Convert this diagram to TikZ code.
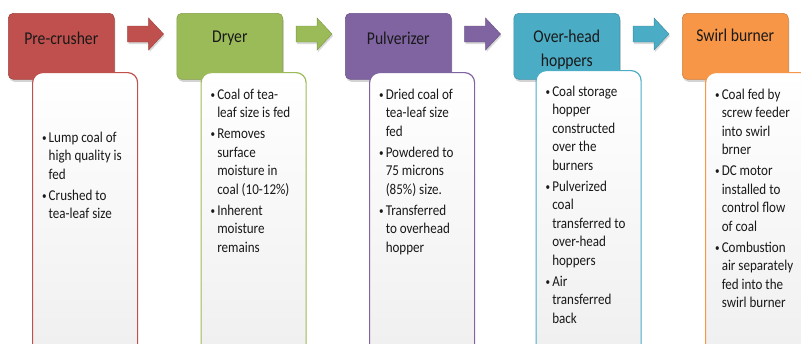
\documentclass[tikz,border=0pt]{standalone}
\usepackage{fontspec}
\setmainfont{Carlito}[FakeStretch=0.87]
\usetikzlibrary{calc,shadows}

\definecolor{crushred}{HTML}{C0504D}
\definecolor{dryergreen}{HTML}{9BBB59}
\definecolor{pulvpurple}{HTML}{8064A2}
\definecolor{hopperaqua}{HTML}{4BACC6}
\definecolor{swirlorange}{HTML}{F79646}
\definecolor{panelgray}{HTML}{EFEFEF}

\newcommand{\bul}{\raisebox{1pt}{\scalebox{0.7}{\textbullet}}}

\begin{document}
\begin{tikzpicture}[x=1pt,y=-1pt,
head/.style={draw=#1!85!black, line width=0.6pt, rounded corners=5pt,
  fill=#1, minimum width=106pt, minimum height=66pt, anchor=north west, inner sep=0pt,
  drop shadow={shadow xshift=1pt,shadow yshift=-2.5pt,opacity=0.35}},
info/.style={draw=#1, line width=1.2pt, rounded corners=10pt,
  top color=white, bottom color=panelgray,
  minimum width=105pt, minimum height=290pt, anchor=north west, inner sep=0pt},
flow/.style={draw=#1!80!black, line width=0.4pt, line join=miter,
  fill=#1, drop shadow={shadow xshift=1pt,shadow yshift=-2pt,opacity=0.3}},
title/.style={font=\fontsize{18}{24}\selectfont, align=center, text=black!90},
points/.style={anchor=north west, inner sep=0pt,
  font=\fontsize{15}{18.5}\selectfont, text=black!90}
]
\useasboundingbox (0,0) rectangle (801,343);
\clip (0,0) rectangle (801,343);

% step headers
\node[head=crushred] (h1) at (8,13) {};
\node[head=dryergreen] (h2) at (176.5,13) {};
\node[head=pulvpurple] (h3) at (345,13) {};
\node[head=hopperaqua] (h4) at (513.5,13) {};
\node[head=swirlorange] (h5) at (682,13) {};

% block arrows between steps
\coordinate (a1) at ($(h1.north east)!0.5!(h2.north west)+(0,21)$);
\coordinate (a2) at ($(h2.north east)!0.5!(h3.north west)+(0,21)$);
\coordinate (a3) at ($(h3.north east)!0.5!(h4.north west)+(0,21)$);
\coordinate (a4) at ($(h4.north east)!0.5!(h5.north west)+(0,21)$);
\def\blockarrow#1#2{%
\draw[flow=#2] ($(#1)+(-18,-8)$) -- ++(21,0) -- ++(0,-8) -- ++(15,16)
  -- ++(-15,16) -- ++(0,-8) -- ++(-21,0) -- cycle;}
\blockarrow{a1}{crushred}
\blockarrow{a2}{dryergreen}
\blockarrow{a3}{pulvpurple}
\blockarrow{a4}{hopperaqua}

% text panels
\node[info=crushred] (b1) at ($(h1.north west)+(24,59)$) {};
\node[info=dryergreen] (b2) at ($(h2.north west)+(24,59)$) {};
\node[info=pulvpurple] (b3) at ($(h3.north west)+(24,59)$) {};
\node[info=hopperaqua] (b4) at ($(h4.north west)+(22,57)$) {};
\node[info=swirlorange] (b5) at ($(h5.north west)+(23,59)$) {};

\node[title] (t1) at ($(h1.north)+(0,25)$) {Pre-crusher};
\node[title] (t2) at ($(h2.north)+(0,25)$) {Dryer};
\node[title] (t3) at ($(h3.north)+(0,25)$) {Pulverizer};
\node[title] (t4) at ($(h4.north)+(0,37)$) {Over-head\\hoppers};
\node[title] (t5) at ($(h5.north)+(0,22)$) {Swirl burner};

\node[points] (p1) at ($(b1.north west)+(10,57)$) {%
\begin{tabular}{@{}l@{\hspace{2pt}}l@{}}
\bul & Lump coal of\\ & high quality is\\ & fed\\[2.5pt]
\bul & Crushed to\\ & tea-leaf size
\end{tabular}};
\node[points] (p2) at ($(b2.north west)+(10,14)$) {%
\begin{tabular}{@{}l@{\hspace{2pt}}l@{}}
\bul & Coal of tea-\\ & leaf size is fed\\[2.5pt]
\bul & Removes\\ & surface\\ & moisture in\\ & coal (10-12\%)\\[2.5pt]
\bul & Inherent\\ & moisture\\ & remains
\end{tabular}};
\node[points] (p3) at ($(b3.north west)+(10,14)$) {%
\begin{tabular}{@{}l@{\hspace{2pt}}l@{}}
\bul & Dried coal of\\ & tea-leaf size\\ & fed\\[2.5pt]
\bul & Powdered to\\ & 75 microns\\ & (85\%) size.\\[2.5pt]
\bul & Transferred\\ & to overhead\\ & hopper
\end{tabular}};
\node[points] (p4) at ($(b4.north west)+(10,13)$) {%
\begin{tabular}{@{}l@{\hspace{2pt}}l@{}}
\bul & Coal storage\\ & hopper\\ & constructed\\ & over the\\ & burners\\[2.5pt]
\bul & Pulverized\\ & coal\\ & transferred to\\ & over-head\\ & hoppers\\[2.5pt]
\bul & Air\\ & transferred\\ & back
\end{tabular}};
\node[points] (p5) at ($(b5.north west)+(10,14)$) {%
\begin{tabular}{@{}l@{\hspace{2pt}}l@{}}
\bul & Coal fed by\\ & screw feeder\\ & into swirl\\ & brner\\[2.5pt]
\bul & DC motor\\ & installed to\\ & control flow\\ & of coal\\[2.5pt]
\bul & Combustion\\ & air separately\\ & fed into the\\ & swirl burner
\end{tabular}};
\end{tikzpicture}
\end{document}
